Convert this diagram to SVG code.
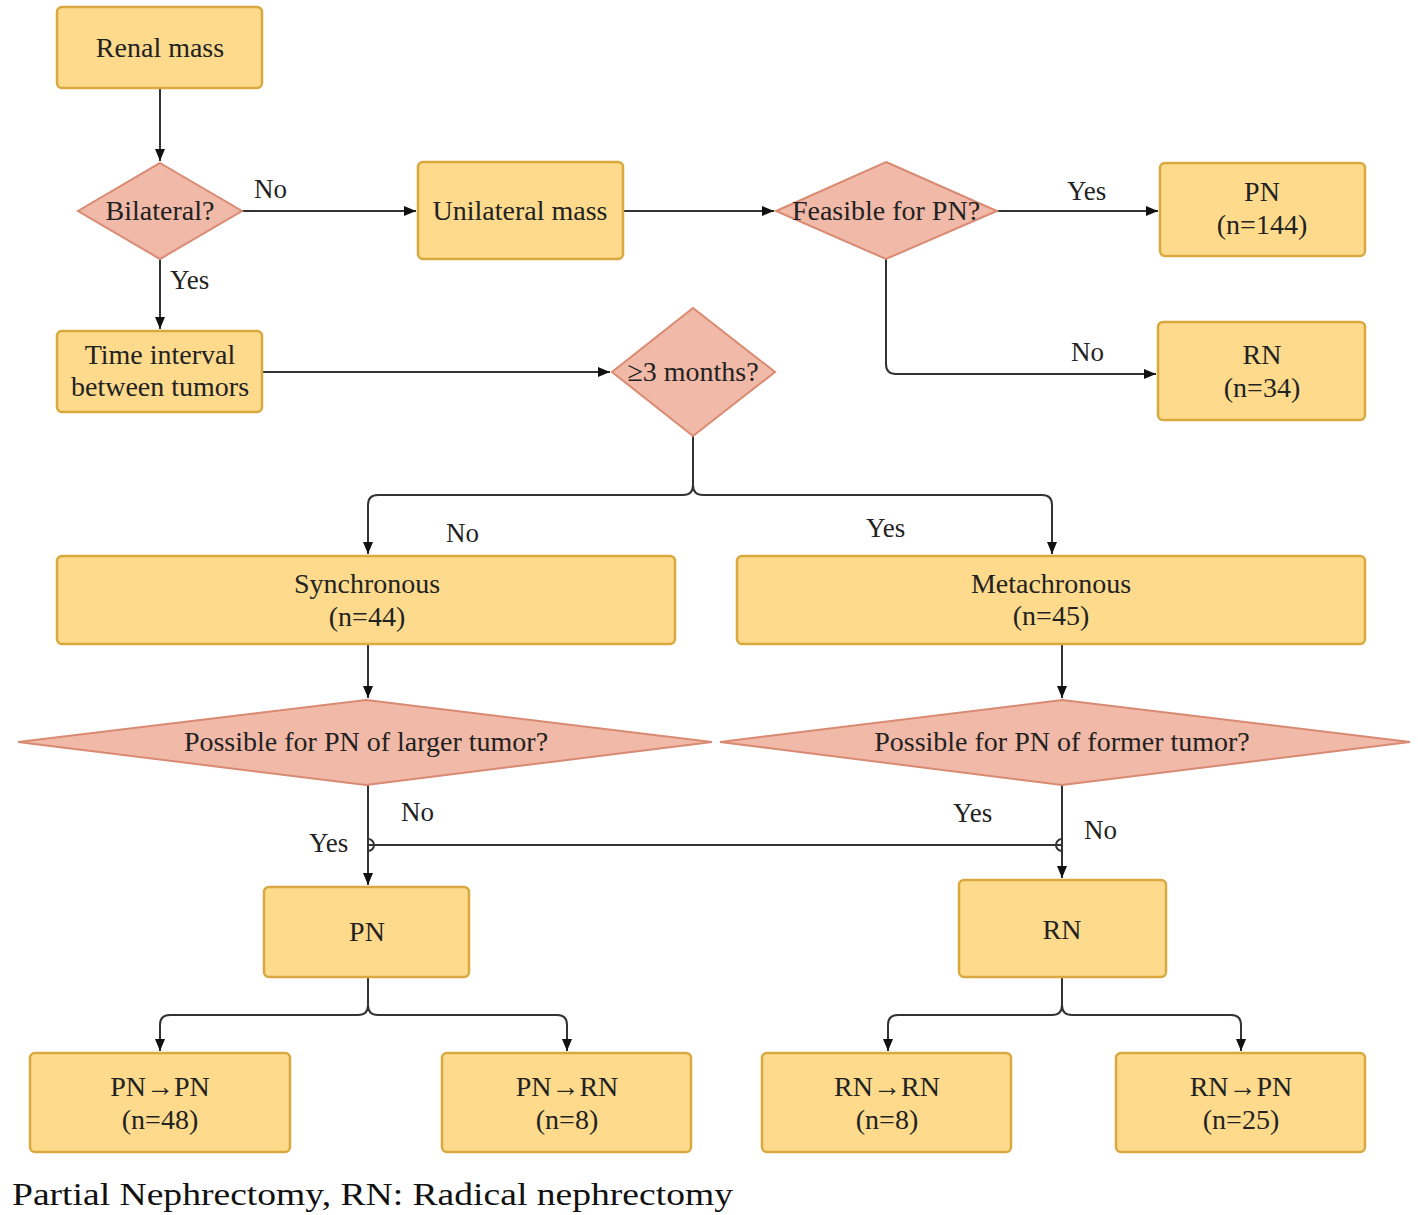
<svg xmlns="http://www.w3.org/2000/svg" width="1418" height="1215" viewBox="0 0 1418 1215">
<defs>
<style>
.box{fill:#fdda8c;stroke:#d9a83e;stroke-width:2.5}
.dia{fill:#f1b9a7;stroke:#d98a72;stroke-width:2}
.t{font-family:'Liberation Serif','Times New Roman',serif;font-size:28px;fill:#222;text-anchor:middle}
.l{font-family:'Liberation Serif','Times New Roman',serif;font-size:27px;fill:#222}
.c{fill:none;stroke:#333;stroke-width:2}
</style>
<marker id="a" viewBox="0 0 12 10" refX="12" refY="5" markerWidth="12" markerHeight="10" markerUnits="userSpaceOnUse" orient="auto">
<path d="M0,0 L12,5 L0,10 Z" fill="#111"/>
</marker>
</defs>
<rect width="1418" height="1215" fill="#fff"/>
<g id="connectors">
<path class="c" d="M160,88 V161" marker-end="url(#a)"/>
<path class="c" d="M242,211 H416" marker-end="url(#a)"/>
<path class="c" d="M160,259 V329" marker-end="url(#a)"/>
<path class="c" d="M623,211 H774" marker-end="url(#a)"/>
<path class="c" d="M997,211 H1158" marker-end="url(#a)"/>
<path class="c" d="M886,259 V364 Q886,374 896,374 H1156" marker-end="url(#a)"/>
<path class="c" d="M262,372 H610" marker-end="url(#a)"/>
<path class="c" d="M693,436 V485 Q693,495 683,495 H378 Q368,495 368,505 V554" marker-end="url(#a)"/>
<path class="c" d="M693,485 Q693,495 703,495 H1042 Q1052,495 1052,505 V554" marker-end="url(#a)"/>
<path class="c" d="M368,644 V698" marker-end="url(#a)"/>
<path class="c" d="M1062,644 V698" marker-end="url(#a)"/>
<path class="c" d="M368,785 V885" marker-end="url(#a)"/>
<path class="c" d="M1062,785 V878" marker-end="url(#a)"/>
<path class="c" d="M368,845 H1062"/>
<path class="c" d="M374,845 A6,6 0 0 0 368,839 M374,845 A6,6 0 0 1 368,851"/>
<path class="c" d="M1056,845 A6,6 0 0 1 1062,839 M1056,845 A6,6 0 0 0 1062,851"/>
<path class="c" d="M368,977 V1005 Q368,1015 358,1015 H170 Q160,1015 160,1025 V1051" marker-end="url(#a)"/>
<path class="c" d="M368,1005 Q368,1015 378,1015 H557 Q567,1015 567,1025 V1051" marker-end="url(#a)"/>
<path class="c" d="M1062,977 V1005 Q1062,1015 1052,1015 H898 Q888,1015 888,1025 V1051" marker-end="url(#a)"/>
<path class="c" d="M1062,1005 Q1062,1015 1072,1015 H1231 Q1241,1015 1241,1025 V1051" marker-end="url(#a)"/>
</g>
<g id="labels">
<text class="l" x="254" y="198">No</text>
<text class="l" x="170" y="289">Yes</text>
<text class="l" x="1067" y="200">Yes</text>
<text class="l" x="1071" y="361">No</text>
<text class="l" x="446" y="542">No</text>
<text class="l" x="866" y="537">Yes</text>
<text class="l" x="401" y="821">No</text>
<text class="l" x="309" y="852">Yes</text>
<text class="l" x="953" y="822">Yes</text>
<text class="l" x="1084" y="839">No</text>
</g>
<g id="n-renal"><rect class="box" x="57" y="7" width="205" height="81" rx="5"/><text class="t" x="160" y="57">Renal mass</text></g>
<g id="n-bilateral"><polygon class="dia" points="160,163 242,211 160,259 78,211"/><text class="t" x="160" y="220">Bilateral?</text></g>
<g id="n-unilateral"><rect class="box" x="418" y="162" width="205" height="97" rx="5"/><text class="t" x="520" y="220">Unilateral mass</text></g>
<g id="n-feasible"><polygon class="dia" points="886,162 997,211 886,259 776,211"/><text class="t" x="886" y="220">Feasible for PN?</text></g>
<g id="n-pn144"><rect class="box" x="1160" y="163" width="205" height="93" rx="5"/><text class="t" x="1262" y="201">PN</text><text class="t" x="1262" y="234">(n=144)</text></g>
<g id="n-rn34"><rect class="box" x="1158" y="322" width="207" height="98" rx="5"/><text class="t" x="1262" y="364">RN</text><text class="t" x="1262" y="397">(n=34)</text></g>
<g id="n-time"><rect class="box" x="57" y="331" width="205" height="81" rx="5"/><text class="t" x="160" y="364">Time interval</text><text class="t" x="160" y="396">between tumors</text></g>
<g id="n-months"><polygon class="dia" points="693,308 775,372 693,436 612,372"/><text class="t" x="693" y="381">≥3 months?</text></g>
<g id="n-sync"><rect class="box" x="57" y="556" width="618" height="88" rx="5"/><text class="t" x="367" y="593">Synchronous</text><text class="t" x="367" y="626">(n=44)</text></g>
<g id="n-meta"><rect class="box" x="737" y="556" width="628" height="88" rx="5"/><text class="t" x="1051" y="593">Metachronous</text><text class="t" x="1051" y="625">(n=45)</text></g>
<g id="n-larger"><polygon class="dia" points="366,700 712,742 366,785 18,742"/><text class="t" x="366" y="751">Possible for PN of larger tumor?</text></g>
<g id="n-former"><polygon class="dia" points="1062,700 1410,742 1062,785 720,742"/><text class="t" x="1062" y="751">Possible for PN of former tumor?</text></g>
<g id="n-pn"><rect class="box" x="264" y="887" width="205" height="90" rx="5"/><text class="t" x="367" y="941">PN</text></g>
<g id="n-rn"><rect class="box" x="959" y="880" width="207" height="97" rx="5"/><text class="t" x="1062" y="939">RN</text></g>
<g id="n-pnpn"><rect class="box" x="30" y="1053" width="260" height="99" rx="5"/><text class="t" x="160" y="1096">PN→PN</text><text class="t" x="160" y="1129">(n=48)</text></g>
<g id="n-pnrn"><rect class="box" x="442" y="1053" width="249" height="99" rx="5"/><text class="t" x="567" y="1096">PN→RN</text><text class="t" x="567" y="1129">(n=8)</text></g>
<g id="n-rnrn"><rect class="box" x="762" y="1053" width="249" height="99" rx="5"/><text class="t" x="887" y="1096">RN→RN</text><text class="t" x="887" y="1129">(n=8)</text></g>
<g id="n-rnpn"><rect class="box" x="1116" y="1053" width="249" height="99" rx="5"/><text class="t" x="1241" y="1096">RN→PN</text><text class="t" x="1241" y="1129">(n=25)</text></g>
<text x="12" y="1205" textLength="721" lengthAdjust="spacingAndGlyphs" style="font-family:'Liberation Serif',serif;font-size:32px;fill:#111">Partial Nephrectomy, RN: Radical nephrectomy</text>
</svg>
